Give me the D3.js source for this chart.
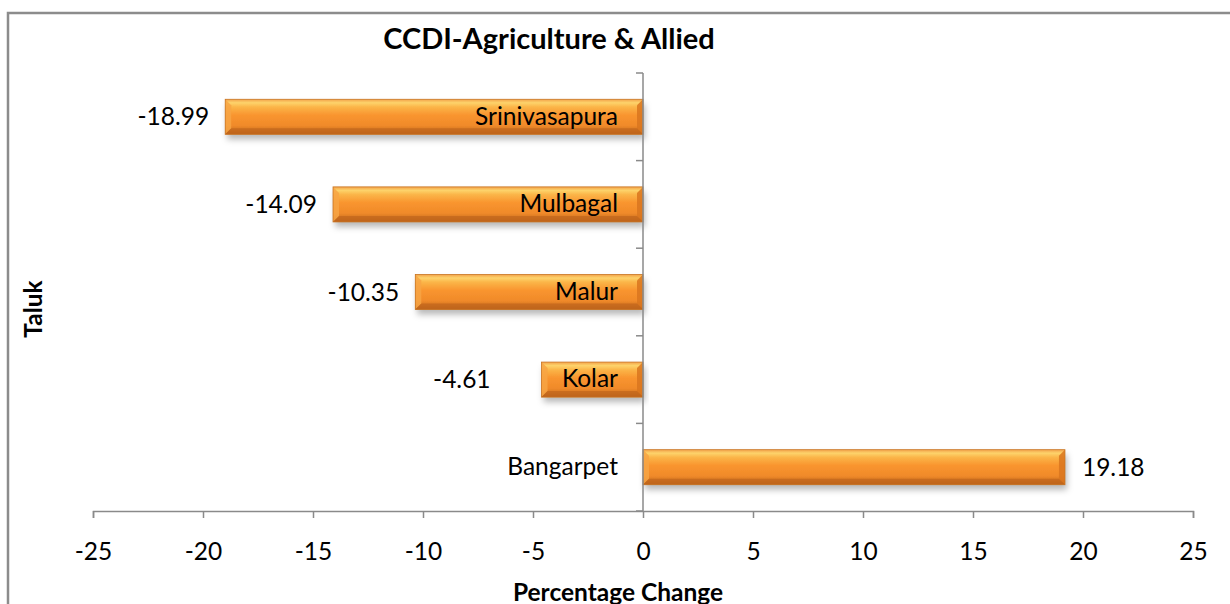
<!DOCTYPE html>
<html>
<head>
<meta charset="utf-8">
<script src="https://cdn.jsdelivr.net/npm/d3@7"></script>
<style>
  html, body { margin: 0; padding: 0; background: #fff; }
  svg { display: block; font-family: Lato, "Open Sans", sans-serif; }
</style>
</head>
<body>
<svg id="chart" width="1230" height="604"></svg>
<script>
const categories = ["Srinivasapura", "Mulbagal", "Malur", "Kolar", "Bangarpet"];
const values = [-18.99, -14.09, -10.35, -4.61, 19.18];
const xTicks = [-25, -20, -15, -10, -5, 0, 5, 10, 15, 20, 25];
const title = "CCDI-Agriculture & Allied";
const xTitle = "Percentage Change";
const yTitle = "Taluk";

const svg = d3.select("#chart");
const axisColor = "#8a8a8a";
const fs = 24.5;

// chart border
svg.append("rect").attr("x", 8).attr("y", 13).attr("width", 1240).attr("height", 620)
  .attr("fill", "none").attr("stroke", "#8c8c8c").attr("stroke-width", 2.5);

const defs = svg.append("defs");
const g1 = defs.append("linearGradient").attr("id", "barGrad").attr("x1", 0).attr("y1", 0).attr("x2", 0).attr("y2", 1);
[[0, "#f3a24a"], [0.1, "#fdd36b"], [0.22, "#fbb548"], [0.45, "#f9952f"], [0.75, "#f08a2a"], [0.9, "#d0731f"], [1, "#b8621c"]]
  .forEach(([o, c]) => g1.append("stop").attr("offset", o).attr("stop-color", c));
const f = defs.append("filter").attr("id", "shadow").attr("x", "-5%").attr("y", "-30%").attr("width", "110%").attr("height", "180%");
f.append("feDropShadow").attr("dx", 2).attr("dy", 5).attr("stdDeviation", 3).attr("flood-color", "#000").attr("flood-opacity", 0.28);

const x = d3.scaleLinear().domain([-25, 25]).range([93, 1193]);
const y = d3.scaleBand().domain(categories).range([73, 511]).paddingInner(0.6).paddingOuter(0.3);
const step = y.step();

// bars
const bars = svg.append("g").selectAll("g").data(categories).join("g");
bars.each(function(c, i) {
  const v = values[i];
  const x0 = Math.min(x(0), x(v)), x1 = Math.max(x(0), x(v));
  const y0 = y(c), h = y.bandwidth();
  const gg = d3.select(this);
  gg.append("rect").attr("x", x0).attr("y", y0).attr("width", x1 - x0).attr("height", h)
    .attr("fill", "url(#barGrad)").attr("filter", "url(#shadow)");
  const b = 6;
  gg.append("polygon")
    .attr("points", `${x0},${y0} ${x0 + b},${y0 + b} ${x0 + b},${y0 + h - b} ${x0},${y0 + h}`)
    .attr("fill", "#f7a444").attr("opacity", 0.85);
  gg.append("polygon")
    .attr("points", `${x1},${y0} ${x1 - b},${y0 + b} ${x1 - b},${y0 + h - b} ${x1},${y0 + h}`)
    .attr("fill", "#d9761f").attr("opacity", 0.85);
  gg.append("polygon")
    .attr("points", `${x0},${y0 + h} ${x0 + b},${y0 + h - b} ${x1 - b},${y0 + h - b} ${x1},${y0 + h}`)
    .attr("fill", "#c0651d").attr("opacity", 0.7);
  gg.append("rect").attr("x", x0).attr("y", y0).attr("width", x1 - x0).attr("height", h)
    .attr("fill", "none").attr("stroke", "#c87422").attr("stroke-width", 0.8);
});

// x axis
const xAxis = svg.append("g").attr("transform", `translate(0,${y.range()[1]})`)
  .call(d3.axisBottom(x).tickValues(xTicks).tickSize(7).tickSizeOuter(7).tickPadding(25).tickFormat(d3.format("d")));
xAxis.select(".domain").attr("stroke", axisColor).attr("stroke-width", 1.5);
xAxis.selectAll(".tick line").attr("stroke", axisColor).attr("stroke-width", 1.5);
xAxis.selectAll(".tick text").attr("font-size", fs).attr("fill", "#000").attr("font-family", "Lato, sans-serif")
  .text(d => d < 0 ? "-" + Math.abs(d) : d);

// y axis line at zero with boundary ticks
const yAx = svg.append("g");
yAx.append("line").attr("x1", x(0)).attr("x2", x(0)).attr("y1", y.range()[0]).attr("y2", y.range()[1])
  .attr("stroke", axisColor).attr("stroke-width", 1.5);
const bounds = d3.range(categories.length + 1).map(i => y.range()[0] + i * step);
yAx.selectAll("line.tk").data(bounds).join("line").attr("class", "tk")
  .attr("x1", x(0) - 7).attr("x2", x(0)).attr("y1", d => d).attr("y2", d => d)
  .attr("stroke", axisColor).attr("stroke-width", 1.5);

// category labels
const yAxis = svg.append("g").attr("transform", `translate(${x(0)},0)`)
  .call(d3.axisLeft(y).tickSize(0).tickPadding(25));
yAxis.select(".domain").remove();
yAxis.selectAll(".tick text").attr("font-size", fs).attr("fill", "#000").attr("font-family", "Lato, sans-serif");

// value labels
svg.append("g").selectAll("text").data(categories).join("text")
  .attr("x", (c, i) => values[i] < 0 ? x(values[i]) - 16 - (Math.abs(values[i]) < 5 ? 35 : 0) : x(values[i]) + 17)
  .attr("y", c => y(c) + y.bandwidth() / 2)
  .attr("dy", "0.35em")
  .attr("text-anchor", (c, i) => values[i] < 0 ? "end" : "start")
  .attr("font-size", fs)
  .text((c, i) => values[i].toFixed(2));

// titles
svg.append("text").attr("x", 549).attr("y", 49).attr("text-anchor", "middle")
  .attr("font-size", 29).attr("font-weight", "bold").text(title);
svg.append("text").attr("x", 618).attr("y", 601).attr("text-anchor", "middle")
  .attr("font-size", fs).attr("font-weight", "bold").text(xTitle);
svg.append("text").attr("transform", "translate(42,309) rotate(-90)").attr("text-anchor", "middle")
  .attr("font-size", fs).attr("font-weight", "bold").text(yTitle);
</script>
</body>
</html>
